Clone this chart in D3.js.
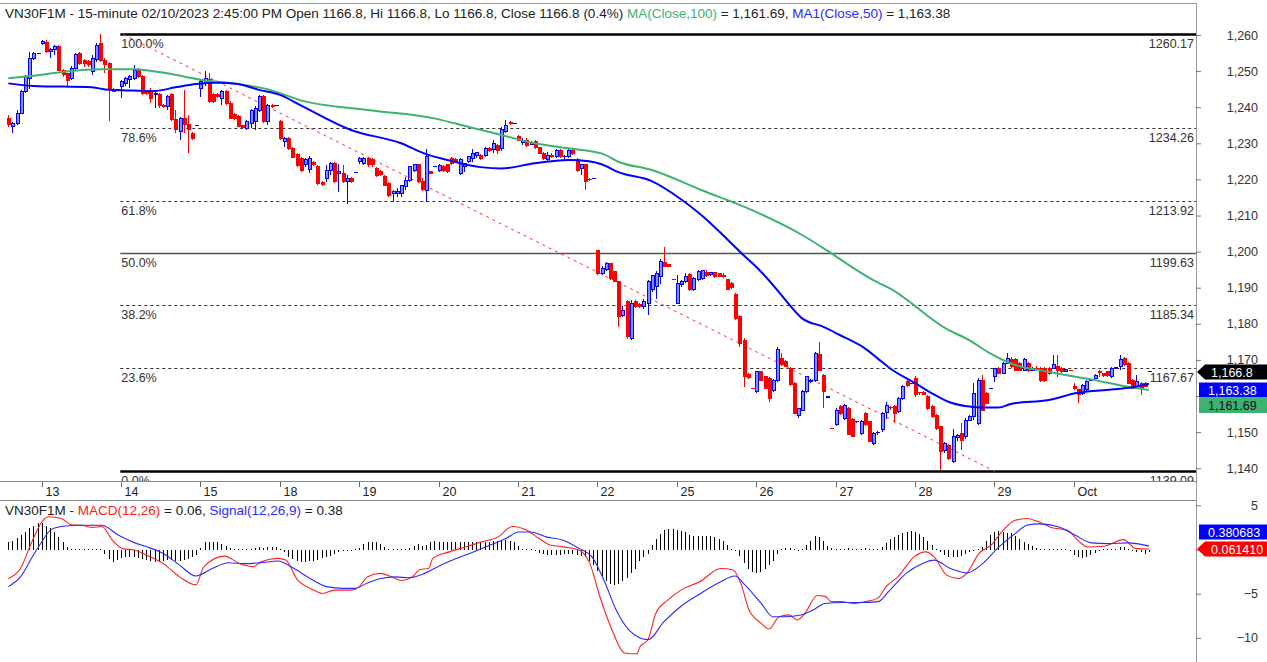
<!DOCTYPE html>
<html><head><meta charset="utf-8">
<script src="https://cdn.jsdelivr.net/npm/d3@7"></script>
<style>
body{margin:0;background:#fff;}
svg{display:block;font-family:"Liberation Sans",Arial,sans-serif;}
</style>
</head><body>
<svg id="c" width="1267" height="662"></svg>
<script>
// ---------------- DATA ----------------
// 15-minute candles [open, high, low, close], 12 Sep (partial) .. 2 Oct
const candles = [
// 12
[1236.9,1237.9,1234.6,1235.1],[1234.6,1235.8,1232.8,1235.6],[1235.6,1239.2,1235.1,1238.3],[1238.3,1244.8,1238.0,1244.3],
[1244.3,1249.0,1243.8,1248.5],[1248.0,1255.4,1245.0,1253.6],[1253.6,1255.4,1253.1,1255.0],[1255.0,1255.0,1255.0,1255.0],
// 13
[1257.6,1258.7,1257.3,1258.3],[1257.9,1258.5,1255.0,1255.4],[1255.4,1256.3,1253.6,1256.0],[1256.0,1257.2,1254.5,1256.8],
[1256.8,1257.2,1250.2,1250.3],[1250.3,1250.5,1248.5,1249.0],[1249.4,1249.6,1245.7,1247.5],[1248.0,1251.4,1247.5,1250.8],
[1250.8,1255.0,1250.3,1254.5],[1255.0,1255.4,1251.8,1252.2],[1252.9,1253.4,1251.0,1252.2],[1252.6,1253.0,1251.2,1251.7],
[1250.0,1254.5,1249.0,1253.5],[1253.1,1257.7,1252.6,1257.2],[1257.7,1260.2,1252.6,1253.0],[1253.0,1253.6,1249.4,1251.7],
[1252.2,1252.6,1236.1,1245.2],[1245.0,1245.4,1244.2,1244.4],[1244.8,1244.8,1244.8,1244.8],
// 14
[1245.7,1247.6,1242.5,1247.1],[1246.6,1248.5,1245.9,1248.0],[1247.6,1249.0,1245.2,1248.5],[1248.0,1251.7,1247.6,1250.3],
[1250.3,1250.8,1248.0,1248.5],[1248.5,1249.0,1243.4,1243.9],[1244.3,1244.6,1243.5,1243.9],[1244.3,1245.2,1241.1,1242.5],
[1243.4,1244.3,1239.7,1243.9],[1243.4,1243.8,1239.7,1240.6],[1240.6,1241.0,1239.8,1240.2],[1240.2,1243.4,1239.2,1242.9],
[1243.4,1243.9,1236.3,1236.5],[1236.5,1239.2,1232.8,1233.7],[1233.2,1237.4,1230.9,1236.9],[1236.9,1244.8,1232.8,1235.1],
[1235.1,1237.9,1227.3,1233.7],[1232.8,1233.0,1231.0,1231.4],[1234.9,1234.9,1234.9,1234.9],
// 15
[1245.3,1247.6,1242.9,1247.1],[1246.6,1249.9,1246.0,1248.0],[1247.6,1249.4,1241.1,1241.6],[1243.4,1243.8,1241.3,1241.6],
[1243.4,1243.8,1242.6,1243.0],[1242.5,1244.8,1240.6,1244.3],[1244.3,1244.8,1240.6,1241.1],[1241.1,1241.6,1236.9,1236.9],
[1237.9,1238.3,1236.5,1236.9],[1237.4,1237.8,1234.6,1234.6],[1234.9,1235.1,1234.2,1234.4],[1234.2,1236.4,1233.7,1236.0],
[1235.6,1239.6,1234.2,1239.2],[1236.0,1240.2,1233.7,1239.7],[1239.2,1243.4,1238.8,1242.9],[1242.9,1243.4,1235.5,1236.0],
[1236.0,1241.0,1235.1,1240.6],[1240.6,1241.0,1239.9,1240.2],[1240.4,1240.4,1240.4,1240.4],
// 18
[1236.0,1236.5,1230.9,1231.4],[1230.4,1231.8,1229.1,1231.4],[1231.4,1231.8,1228.1,1228.5],[1228.5,1228.9,1225.8,1226.2],
[1226.8,1227.3,1223.5,1223.9],[1225.8,1226.3,1222.0,1222.6],[1224.0,1226.0,1223.5,1225.4],[1222.8,1226.5,1221.7,1225.8],
[1224.6,1225.0,1223.8,1224.2],[1223.5,1224.0,1218.4,1218.9],[1219.2,1219.6,1218.2,1218.7],[1220.3,1224.0,1219.4,1222.6],
[1222.6,1224.9,1221.2,1224.4],[1224.4,1224.9,1218.9,1219.4],[1221.7,1224.4,1216.6,1222.1],[1221.7,1224.0,1218.9,1219.4],
[1219.4,1221.2,1213.2,1220.3],[1220.3,1220.7,1218.9,1219.4],[1221.9,1221.9,1221.9,1221.9],
// 19
[1224.9,1226.3,1224.4,1225.8],[1224.4,1226.3,1224.0,1225.8],[1225.8,1226.3,1223.5,1224.0],[1225.4,1225.8,1223.5,1224.0],
[1223.0,1223.5,1220.7,1221.2],[1222.3,1222.6,1221.0,1221.4],[1220.7,1221.2,1218.2,1218.4],[1218.9,1219.2,1215.2,1215.6],
[1216.1,1217.0,1213.8,1216.6],[1216.1,1217.5,1215.2,1216.6],[1216.1,1218.4,1215.2,1218.2],[1218.0,1220.7,1217.0,1219.8],
[1219.8,1223.7,1219.4,1223.5],[1222.6,1224.4,1222.1,1224.0],[1224.0,1224.4,1219.0,1219.4],[1219.4,1220.3,1216.8,1217.2],
[1217.0,1228.5,1213.8,1226.3],[1222.1,1222.4,1221.7,1221.7],[1223.5,1223.5,1223.5,1223.5],
// 20
[1222.6,1224.4,1222.1,1223.9],[1223.5,1224.0,1222.0,1222.6],[1224.0,1224.4,1221.7,1222.1],[1225.8,1226.3,1224.0,1224.4],
[1225.4,1225.8,1224.6,1225.0],[1221.7,1226.0,1221.2,1225.4],[1223.5,1224.4,1222.1,1224.4],[1225.0,1226.5,1224.6,1226.3],
[1225.8,1228.5,1224.9,1227.2],[1226.7,1227.7,1225.8,1227.5],[1226.5,1227.0,1225.4,1225.8],[1226.7,1229.0,1226.3,1228.5],
[1228.5,1229.0,1227.7,1228.0],[1228.3,1231.0,1227.2,1230.0],[1229.5,1229.8,1227.0,1228.0],[1228.5,1234.6,1228.0,1233.7],
[1233.2,1236.4,1232.8,1235.0],[1235.8,1236.1,1235.2,1235.4],[1235.6,1235.6,1235.6,1235.6],
// 21
[1231.8,1232.3,1230.5,1230.9],[1230.2,1231.4,1229.5,1230.9],[1230.9,1231.4,1229.1,1229.5],[1229.8,1230.5,1229.5,1230.2],
[1230.4,1230.9,1228.5,1228.9],[1228.9,1229.1,1227.0,1227.2],[1227.2,1227.7,1225.4,1225.8],[1225.4,1227.5,1225.0,1226.7],
[1226.7,1227.2,1226.0,1226.3],[1226.3,1228.5,1226.0,1228.1],[1228.1,1228.5,1226.0,1226.3],[1226.0,1226.7,1225.4,1226.3],
[1226.3,1228.5,1225.8,1228.1],[1228.1,1228.5,1226.7,1227.2],[1225.4,1225.8,1222.1,1222.6],[1223.1,1224.4,1221.2,1224.0],
[1224.0,1224.4,1217.0,1219.4],[1220.0,1220.3,1219.6,1219.8],[1220.3,1220.3,1220.3,1220.3],
// 22
[1200.4,1200.4,1193.5,1194.0],[1194.0,1196.0,1193.5,1195.4],[1195.0,1197.0,1194.5,1196.7],[1196.7,1196.9,1192.0,1192.6],
[1194.4,1194.6,1191.5,1191.7],[1191.7,1191.9,1179.2,1182.0],[1182.4,1184.8,1182.0,1183.8],[1186.1,1186.7,1175.8,1176.4],
[1175.8,1186.5,1175.5,1185.7],[1186.1,1186.5,1184.5,1184.8],[1185.3,1185.7,1184.5,1184.8],[1184.8,1186.8,1184.0,1186.3],
[1185.7,1192.0,1182.4,1191.7],[1189.4,1193.5,1188.8,1193.5],[1190.3,1194.5,1187.0,1194.0],[1193.0,1198.0,1191.0,1197.2],
[1197.0,1201.4,1195.8,1196.0],[1196.3,1196.5,1195.6,1195.8],[1192.4,1192.4,1192.4,1192.4],
// 25
[1185.7,1193.6,1185.5,1191.2],[1190.8,1192.0,1190.3,1191.7],[1191.7,1194.0,1191.2,1193.2],[1193.7,1194.0,1189.0,1189.4],
[1189.4,1193.0,1189.0,1192.6],[1192.2,1194.8,1191.8,1194.4],[1192.6,1195.0,1192.2,1194.7],[1194.3,1195.0,1193.0,1193.4],
[1193.6,1194.4,1193.2,1194.2],[1194.2,1194.4,1192.8,1193.0],[1193.8,1194.2,1193.0,1193.2],[1193.5,1194.0,1192.6,1193.0],
[1192.3,1192.5,1189.4,1189.4],[1191.2,1191.6,1189.6,1190.0],[1188.0,1188.5,1181.1,1181.5],[1182.0,1182.5,1173.6,1174.6],
[1175.5,1176.0,1162.6,1165.4],[1166.0,1166.5,1164.6,1165.0],[1162.1,1162.1,1162.1,1162.1],
// 26
[1161.2,1167.0,1160.7,1166.7],[1166.7,1167.0,1164.2,1164.4],[1165.3,1165.6,1162.0,1162.1],[1164.9,1165.2,1158.4,1159.3],
[1161.6,1164.8,1161.2,1164.4],[1164.4,1173.7,1163.9,1172.8],[1170.5,1171.8,1168.2,1168.6],[1169.5,1170.0,1168.0,1168.2],
[1167.7,1168.0,1162.9,1163.1],[1163.5,1163.8,1155.2,1155.2],[1154.6,1156.7,1154.0,1156.4],[1156.1,1161.6,1155.8,1161.2],
[1161.2,1165.6,1160.7,1165.3],[1163.9,1164.8,1163.5,1164.4],[1164.4,1172.3,1163.9,1171.8],[1171.4,1175.0,1167.2,1167.2],
[1165.8,1166.0,1156.6,1161.2],[1159.6,1160.0,1159.6,1160.0],[1151.1,1151.1,1151.1,1151.1],
// 27
[1152.0,1156.6,1151.6,1156.1],[1157.0,1157.5,1154.7,1155.2],[1153.9,1157.7,1153.4,1157.5],[1156.6,1157.0,1149.2,1149.2],
[1153.4,1153.8,1148.7,1148.7],[1152.8,1153.2,1152.6,1153.0],[1149.6,1153.3,1149.2,1152.8],[1155.2,1155.6,1151.6,1152.0],
[1152.8,1153.2,1147.4,1147.4],[1146.9,1150.1,1146.4,1149.6],[1149.8,1150.4,1149.2,1149.9],[1150.6,1155.6,1150.1,1155.2],
[1155.5,1158.2,1153.5,1157.3],[1156.8,1157.2,1156.2,1156.6],[1157.0,1157.4,1152.4,1155.2],[1155.7,1159.6,1155.2,1159.3],
[1159.3,1163.0,1158.8,1162.6],[1164.0,1164.4,1162.6,1163.0],[1163.6,1163.6,1163.6,1163.6],
// 28
[1164.9,1165.5,1159.8,1160.3],[1160.9,1161.2,1160.3,1160.6],[1160.9,1161.4,1160.2,1160.5],[1159.8,1160.2,1156.2,1156.6],
[1157.0,1157.4,1154.0,1154.3],[1154.7,1155.0,1150.6,1151.0],[1151.5,1151.8,1139.5,1144.6],[1145.0,1147.2,1144.1,1146.9],
[1146.4,1146.8,1142.3,1142.7],[1141.8,1150.9,1141.4,1148.7],[1148.5,1149.5,1147.5,1149.0],[1149.7,1152.4,1145.0,1147.8],
[1148.7,1153.8,1148.2,1153.3],[1153.3,1154.6,1153.0,1154.3],[1154.3,1163.5,1153.3,1160.7],[1152.4,1164.9,1152.0,1164.4],
[1164.4,1165.8,1156.1,1156.1],[1160.7,1161.0,1158.0,1158.0],[1162.1,1162.1,1162.1,1162.1],
// 29
[1165.3,1167.7,1164.0,1167.7],[1167.7,1168.1,1166.2,1166.3],[1166.3,1169.5,1166.0,1169.0],[1169.0,1171.8,1168.8,1170.4],
[1170.0,1170.9,1167.7,1168.1],[1170.0,1170.4,1166.8,1167.2],[1169.0,1169.3,1167.0,1167.2],[1167.2,1170.4,1166.8,1170.0],
[1169.0,1169.3,1166.7,1167.2],[1167.2,1168.0,1166.8,1167.6],[1167.6,1168.2,1167.0,1167.3],[1167.7,1168.0,1163.9,1164.4],
[1167.7,1168.0,1163.9,1164.4],[1167.7,1168.0,1165.8,1166.3],[1167.7,1171.3,1167.4,1168.6],[1168.1,1171.3,1165.3,1167.2],
[1167.7,1168.0,1166.4,1166.7],[1166.8,1167.5,1166.6,1167.4],[1167.2,1167.2,1167.2,1167.2],
// Oct 2
[1162.6,1163.5,1161.7,1162.1],[1161.7,1162.0,1158.0,1160.3],[1160.7,1163.3,1160.3,1163.0],[1161.7,1164.3,1161.4,1164.0],
[1164.3,1164.6,1164.2,1164.4],[1164.9,1166.0,1164.6,1165.8],[1166.7,1167.2,1165.3,1166.4],[1166.2,1166.5,1165.3,1165.6],
[1166.7,1167.0,1165.3,1165.6],[1165.3,1167.9,1165.0,1167.7],[1167.7,1168.0,1167.5,1167.8],[1168.1,1171.3,1167.2,1170.0],
[1170.4,1170.7,1168.4,1168.6],[1169.0,1169.3,1163.5,1163.5],[1164.4,1164.7,1162.1,1162.1],[1162.6,1165.8,1162.1,1164.0],
[1163.5,1163.9,1160.3,1162.1],[1163.5,1163.8,1162.4,1162.6],[1166.8,1166.8,1166.8,1166.8]
];

const dayLabels = ["13","14","15","18","19","20","21","22","25","26","27","28","29","Oct"];
const dayStartBar = [8,27,46,65,84,103,122,141,160,179,198,217,236,255];

// Moving averages read at sample bars
const ma50Bars = [0,6,20,24,30,35,40,45,50,55,60,65,70,82,94,100,105,113,118,126,134,139,142,146,154,161,166,172,176,179,184,187,190,195,199,205,208,211,217,221,225,229,233,237,240,249,256,264,269,273];
const ma50Vals = [1246.6,1245.9,1245.5,1244.8,1244.6,1244.5,1245.5,1246.4,1246.8,1246.4,1244.8,1243.4,1240.5,1233.7,1230.0,1227.0,1225.4,1223.4,1223.0,1224.5,1225.4,1225.0,1224.2,1222.0,1219.5,1214.5,1210.0,1203.5,1199.0,1195.8,1189.4,1185.2,1181.5,1179.2,1176.9,1173.2,1170.5,1167.7,1163.6,1160.8,1158.4,1157.2,1156.8,1156.8,1157.8,1158.9,1160.9,1161.8,1162.4,1163.38];
const ma100Bars = [0,6,14,22,30,34,38,46,54,62,70,86,102,110,118,126,134,142,146,154,166,178,190,197,203,207,211,225,230,235,240,249,253,260,266,273];
const ma100Vals = [1248.0,1248.7,1249.9,1250.5,1250.5,1250.1,1249.4,1247.6,1246.6,1245.0,1241.9,1239.2,1236.9,1234.6,1232.3,1230.0,1228.6,1227.2,1224.9,1222.6,1217.0,1211.5,1204.6,1199.5,1194.9,1192.1,1189.8,1178.3,1175.5,1171.8,1169.0,1166.7,1165.8,1164.4,1163.0,1161.69];

// Fibonacci retracement
const fibLabels = ["100.0%","78.6%","61.8%","50.0%","38.2%","23.6%","0.0%"];
const fibValues = [1260.17,1234.26,1213.92,1199.63,1185.34,1167.67,1139.09];
const fibStartBar = 26.8;
// dashed trend line (bar, price)
const trendBars = [27.5, 236.2];
const trendVals = [1260.17, 1139.09];

// MACD (12,26) and Signal (9), sampled
const macdBars = [0,2.9,5.8,8.3,9.7,12.7,15.1,17.5,20,22.4,24.9,27.3,30.3,33.2,37.1,41,44.9,46.8,51.7,55.6,58.6,60.5,64.5,66.4,69.3,72.3,75.2,78.1,82,84,85.9,88.9,91.8,94.2,96.7,98.6,100.6,101.6,105.5,109.4,113.3,117.2,120.6,124,127,129.9,132.8,136.7,139.2,141.6,144.5,147.5,150.4,151.2,153.1,155,157.9,161.7,165.5,170.5,173.4,175.3,177.3,180.2,182.1,184.5,186.9,188.8,190.7,193.6,195.5,197,199.4,202.3,205.2,208.1,210.1,212.9,216.8,219.6,221.6,224.6,227.4,229.4,232.3,235.2,238.1,241,243.8,246.7,249.6,253.5,256.4,258.3,262.2,267,269.9,273];
const macdVals = [-3.3,-2.15,1.05,3.3,3.7,3.5,2.8,2.74,2.5,2.6,1.05,0.1,-0.08,-0.65,-1.6,-3.1,-4.0,-1.96,-0.75,-1.65,-1.96,-1.4,-1.0,-1.2,-3.5,-4.4,-4.97,-4.6,-4.6,-4.2,-3.1,-2.7,-3.1,-3.5,-3.1,-2.26,-2.15,-1.0,-0.27,0.29,0.86,1.4,2.6,2.2,1.24,0.48,0.3,-0.08,-1.6,-5.35,-9.1,-11.7,-11.8,-11.0,-10.2,-7.2,-5.7,-4.4,-3.65,-2.15,-2.3,-3.8,-6.85,-8.35,-9.0,-7.6,-7.4,-7.98,-7.2,-5.2,-5.3,-5.9,-5.9,-6.1,-5.9,-5.5,-4.2,-3.1,-0.83,-0.27,-0.83,-2.9,-3.28,-2.7,-0.46,0.48,2.17,3.3,3.5,3.1,2.5,2.17,0.86,0.29,0.37,1.12,0.1,0.06];
const signalBars = [0,2.9,5.8,7.8,10.2,12.7,17.5,22.4,26.4,30.3,33.2,37.1,41,44.9,48.8,52.7,56.6,60.5,64.5,68.4,72.3,76.2,80.1,83,85.9,88.9,92.8,95.7,99.6,103.5,107.4,111.3,115.2,119.1,122.1,125,128.9,132.8,136.7,139.7,142.6,145.5,148.5,151.2,153.1,156.9,160.8,165.7,170.5,173.9,176.3,180.2,183,185.9,189.7,192.6,195.5,199.4,204.3,208.2,211,214.9,218.7,221.6,225.5,229.4,233.2,237.1,241,243.8,246.7,251.5,255.4,259.3,263.2,268,273];
const signalVals = [-4.2,-3.1,-0.8,0.7,2.25,2.6,2.74,2.74,1.6,0.75,0.3,-0.46,-1.77,-3.0,-2.15,-1.5,-1.6,-1.5,-1.3,-2.15,-3.3,-4.2,-4.4,-4.4,-3.8,-3.3,-3.1,-3.2,-2.7,-1.77,-1.0,-0.27,0.48,1.24,1.98,1.98,1.4,1.05,0.1,-0.83,-3.5,-6.85,-9.1,-10.0,-10.2,-8.2,-6.5,-4.97,-3.65,-3.0,-4.0,-6.1,-7.6,-7.6,-7.4,-6.85,-6.1,-6.0,-6.0,-5.9,-4.6,-2.7,-1.6,-1.2,-2.15,-2.64,-1.6,0.29,1.8,2.74,2.9,2.55,1.6,0.75,0.67,0.75,0.38];
// MACD histogram, one value per bar
const histVals = [
0.8,1.0,1.3,1.6,2.0,2.4,2.7,3.0,3.0,2.7,2.4,2.0,1.4,0.9,0.3,0.1,0.05,0.05,0.05,0.05,0.05,0.05,0.05,
-0.5,-1.1,-1.4,-1.2,-1.0,-0.9,-0.8,-0.9,-1.0,-1.1,-1.2,-1.3,-1.4,-1.3,-1.3,-1.2,-1.2,-1.3,-1.3,-1.2,-1.1,-0.9,-0.6,
0.2,0.8,0.9,0.9,0.8,0.6,0.4,0.2,0.1,0.05,0.05,0.05,0.05,0.2,0.3,0.2,0.3,0.3,0.3,0.05,
-0.3,-0.8,-1.1,-1.3,-1.4,-1.4,-1.3,-1.3,-1.2,-1.0,-0.9,-0.7,-0.5,-0.3,-0.2,-0.1,-0.1,0.05,
0.2,0.6,0.8,0.9,0.8,0.6,0.3,0.05,0.0,0.05,0.05,0.05,0.2,0.4,0.6,0.4,0.5,0.8,1.0,0.9,
0.9,0.8,0.9,0.9,0.8,0.9,0.9,0.8,0.9,0.9,0.9,0.9,1.0,1.0,1.1,1.1,1.0,0.8,0.4,0.05,0.05,0.05,
-0.2,-0.4,-0.5,-0.6,-0.6,-0.6,-0.6,-0.5,-0.5,-0.5,-0.6,-0.7,-0.9,-1.3,-1.8,-2.4,-3.0,-3.6,-3.9,-4.0,-3.9,-3.6,-3.2,-2.7,-2.2,
-1.3,-0.9,-0.5,0.5,1.2,1.8,2.2,2.3,2.3,2.2,2.1,2.0,1.6,1.5,1.5,1.5,1.5,1.5,1.4,1.2,1.0,0.5,0.05,
-0.1,-0.7,-1.5,-2.2,-2.6,-2.7,-2.5,-2.2,-1.8,-1.3,-0.5,0.05,0.2,0.2,0.05,-0.2,0.05,0.5,1.0,1.5,1.4,1.0,0.4,0.2,
0.05,0.05,0.05,0.2,0.05,0.05,0.05,0.2,0.05,0.05,0.1,0.3,0.7,1.2,1.4,1.6,1.9,2.0,2.1,2.0,1.7,1.4,1.0,0.5,0.1,
-0.3,-0.6,-0.8,-0.8,-0.8,-0.7,-0.5,-0.3,-0.1,0.05,0.3,1.0,1.6,2.0,2.1,2.0,1.9,1.9,1.5,1.2,0.9,0.6,0.4,0.2,
0.05,0.05,0.1,0.05,0.05,0.05,0.05,-0.1,-0.6,-0.9,-1.0,-0.9,-0.6,-0.4,-0.2,0.05,0.05,0.05,0.1,0.3,0.3,0.05,-0.2,-0.3,-0.3,-0.5,-0.3
];

// tick marks; the labelled ones (1,160 and 0 sit behind the value tags in the reference)
const priceTicks = [1140,1150,1160,1170,1180,1190,1200,1210,1220,1230,1240,1250,1260];
const priceTickLabels = [1140,1150,1170,1180,1190,1200,1210,1220,1230,1240,1250,1260];
const macdTicks = [-10,-5,0,5];
const macdTickLabels = [-10,-5,5];
const lastClose = 1166.8, ma50Last = 1163.38, ma100Last = 1161.69;
const macdLast = 0.061410, signalLast = 0.380683;

// ---------------- CHART ----------------
const svg = d3.select("#c");
const AX = 1196;               // right axis position
const MAIN_TOP = 4, MAIN_BOT = 481, MACD_TOP = 500, H = 662;
const GREEN = "#3cb371", BLUE = "#0000ff", RED = "#ff0000";

const x = d3.scaleLinear().domain([0, 273]).range([8.3, 8.3 + 273 * 4.178]);
const y = d3.scaleLinear().domain([1140, 1260]).range([468.2, 35]);
const ym = d3.scaleLinear().domain([-10, 5]).range([637.9, 505.3]);

const defs = svg.append("defs");
defs.append("clipPath").attr("id", "clipMain").append("rect")
  .attr("x", 0).attr("y", MAIN_TOP).attr("width", AX).attr("height", MAIN_BOT - MAIN_TOP);
defs.append("clipPath").attr("id", "clipMacd").append("rect")
  .attr("x", 0).attr("y", MACD_TOP).attr("width", AX).attr("height", H - MACD_TOP);

// frame lines
svg.append("line").attr("x1", 0).attr("x2", AX).attr("y1", 3.5).attr("y2", 3.5).attr("stroke", "#999");
svg.append("line").attr("x1", 0).attr("x2", AX).attr("y1", MAIN_BOT + 0.5).attr("y2", MAIN_BOT + 0.5).attr("stroke", "#888");
svg.append("line").attr("x1", 0).attr("x2", AX).attr("y1", MACD_TOP + 0.5).attr("y2", MACD_TOP + 0.5).attr("stroke", "#888");
svg.append("line").attr("x1", AX + 0.5).attr("x2", AX + 0.5).attr("y1", 3).attr("y2", H).attr("stroke", "#999");

const main = svg.append("g").attr("clip-path", "url(#clipMain)");

// Fibonacci levels
const fibG = main.append("g");
fibValues.forEach((v, i) => {
  const yy = Math.round(y(v)) + 0.5;
  const lbl = fibLabels[i];
  const isEdge = (lbl === "100.0%" || lbl === "0.0%");
  const isMid = lbl === "50.0%";
  fibG.append("line")
    .attr("x1", x(fibStartBar)).attr("x2", AX).attr("y1", yy).attr("y2", yy)
    .attr("stroke", isEdge ? "#000" : (isMid ? "#555" : "#333"))
    .attr("stroke-width", isEdge ? 2.5 : (isMid ? 1.5 : 1))
    .attr("stroke-dasharray", (isEdge || isMid) ? null : "3,3");
  fibG.append("text").attr("x", x(fibStartBar) + 1).attr("y", yy + 13)
    .attr("font-size", 12.5).attr("fill", "#333").text(lbl);
  fibG.append("text").attr("x", AX - 2).attr("y", yy + 13).attr("text-anchor", "end")
    .attr("font-size", 12.5).attr("fill", "#333").text(v.toFixed(2));
});

// trend line
main.append("line")
  .attr("x1", x(trendBars[0])).attr("y1", y(trendVals[0]))
  .attr("x2", x(trendBars[1])).attr("y2", y(trendVals[1]))
  .attr("stroke", "#ff3030").attr("stroke-width", 1).attr("stroke-dasharray", "3,4");

// candles
const cg = main.append("g").attr("shape-rendering", "crispEdges");
candles.forEach((d, i) => {
  const [o, h0, l0, c] = d;
  const h = Math.max(h0, o, c), l = Math.min(l0, o, c);
  const up = c > o || (c === o && (i === 0 || c >= candles[i - 1][3]));
  const col = up ? BLUE : RED;
  const cx = Math.round(x(i));
  if (h > l) {
    cg.append("line").attr("x1", cx + 0.5).attr("x2", cx + 0.5)
      .attr("y1", y(h)).attr("y2", y(l)).attr("stroke", col);
  }
  const top = y(Math.max(o, c)), bot = y(Math.min(o, c));
  if (bot - top < 1.2) {
    cg.append("rect").attr("x", cx - 1.5).attr("y", top - 0.5).attr("width", 4).attr("height", 1.2).attr("fill", col);
  } else {
    cg.append("rect").attr("x", cx - 1).attr("y", top).attr("width", 3).attr("height", bot - top)
      .attr("fill", up ? "#8a8aff" : RED).attr("stroke", col).attr("stroke-width", 1);
  }
});

// moving averages
const lineGen = d3.line().curve(d3.curveMonotoneX);
main.append("path")
  .attr("d", lineGen(ma100Bars.map((b, i) => [x(b), y(ma100Vals[i])])))
  .attr("fill", "none").attr("stroke", GREEN).attr("stroke-width", 2);
main.append("path")
  .attr("d", lineGen(ma50Bars.map((b, i) => [x(b), y(ma50Vals[i])])))
  .attr("fill", "none").attr("stroke", BLUE).attr("stroke-width", 2);

// price axis
const pAxis = svg.append("g").attr("transform", `translate(${AX},0)`)
  .call(d3.axisRight(y).tickValues(priceTicks).tickSize(5)
    .tickFormat(d => priceTickLabels.includes(d) ? d3.format(",")(d) : ""));
pAxis.select(".domain").remove();
pAxis.selectAll(".tick line").attr("stroke", "#777");
pAxis.selectAll(".tick text").attr("x", 62).attr("text-anchor", "end")
  .attr("font-size", 12.5).attr("font-family", "Liberation Sans, Arial, sans-serif").attr("fill", "#333");

// date axis
const dg = svg.append("g");
dayStartBar.forEach((b, i) => {
  const tx = Math.round(x(b)) + 0.5;
  dg.append("line").attr("x1", tx).attr("x2", tx).attr("y1", MAIN_BOT + 1).attr("y2", MAIN_BOT + 6)
    .attr("stroke", "#666");
  dg.append("text").attr("x", tx + 3).attr("y", 496).attr("font-size", 12.5).attr("fill", "#222")
    .text(dayLabels[i]);
});

// MACD panel
const mg = svg.append("g").attr("clip-path", "url(#clipMacd)");
const hg = mg.append("g").attr("shape-rendering", "crispEdges");
histVals.forEach((v, i) => {
  const cx = Math.round(x(i)) + 0.5;
  const y0 = ym(0), y1 = ym(v);
  const yy = Math.abs(y1 - y0) < 1 ? (v >= 0 ? y0 - 1 : y0 + 1) : y1;
  hg.append("line").attr("x1", cx).attr("x2", cx).attr("y1", y0).attr("y2", yy).attr("stroke", "#000");
});
mg.append("path").attr("d", lineGen(macdBars.map((b, i) => [x(b), ym(macdVals[i])])))
  .attr("fill", "none").attr("stroke", "#ff2020").attr("stroke-width", 1.1);
mg.append("path").attr("d", lineGen(signalBars.map((b, i) => [x(b), ym(signalVals[i])])))
  .attr("fill", "none").attr("stroke", "#2a2aff").attr("stroke-width", 1.1);

const mAxis = svg.append("g").attr("transform", `translate(${AX},0)`)
  .call(d3.axisRight(ym).tickValues(macdTicks).tickSize(5)
    .tickFormat(d => macdTickLabels.includes(d) ? d3.format("d")(d) : ""));
mAxis.select(".domain").remove();
mAxis.selectAll(".tick line").attr("stroke", "#777");
mAxis.selectAll(".tick text").attr("x", 62).attr("text-anchor", "end")
  .attr("font-size", 12.5).attr("font-family", "Liberation Sans, Arial, sans-serif").attr("fill", "#333");

// value tags
function tag(cy, text, fill, txtCol, arrow) {
  const g = svg.append("g");
  const x0 = AX + 3, x1 = 1267, hh = 7.5;
  const pts = arrow
    ? [[AX + 1, cy], [x0 + 6, cy - hh], [x1, cy - hh], [x1, cy + hh], [x0 + 6, cy + hh]]
    : [[x0, cy - hh], [x1, cy - hh], [x1, cy + hh], [x0, cy + hh]];
  g.append("polygon").attr("points", pts.map(p => p.join(",")).join(" ")).attr("fill", fill);
  g.append("text").attr("x", x0 + (arrow ? 12 : 9)).attr("y", cy + 4.5).attr("font-size", 12.5)
    .attr("fill", txtCol).text(text);
}
const fmt2 = d3.format(",.2f");
tag(372, d3.format(",.1f")(lastClose), "#000", "#fff", true);
tag(390, fmt2(ma50Last), "#0000ff", "#fff", false);
tag(405.5, fmt2(ma100Last), GREEN, "#111", false);
tag(532, signalLast.toFixed(6), "#0000ff", "#fff", false);
tag(549, macdLast.toFixed(6), "#ff0000", "#fff", true);

// titles
const t1 = svg.append("text").attr("x", 5).attr("y", 18).attr("font-size", 13.5).attr("fill", "#222");
t1.append("tspan").text("VN30F1M - 15-minute 02/10/2023 2:45:00 PM Open 1166.8, Hi 1166.8, Lo 1166.8, Close 1166.8 (0.4%) ");
t1.append("tspan").attr("fill", GREEN).text("MA(Close,100)");
t1.append("tspan").text(" = 1,161.69, ");
t1.append("tspan").attr("fill", "#2a2aff").text("MA1(Close,50)");
t1.append("tspan").text(" = 1,163.38");

const t2 = svg.append("text").attr("x", 5).attr("y", 515).attr("font-size", 13.5).attr("fill", "#222");
t2.append("tspan").text("VN30F1M - ");
t2.append("tspan").attr("fill", "#ff2020").text("MACD(12,26)");
t2.append("tspan").text(" = 0.06, ");
t2.append("tspan").attr("fill", "#2a2aff").text("Signal(12,26,9)");
t2.append("tspan").text(" = 0.38");
</script>
</body></html>
